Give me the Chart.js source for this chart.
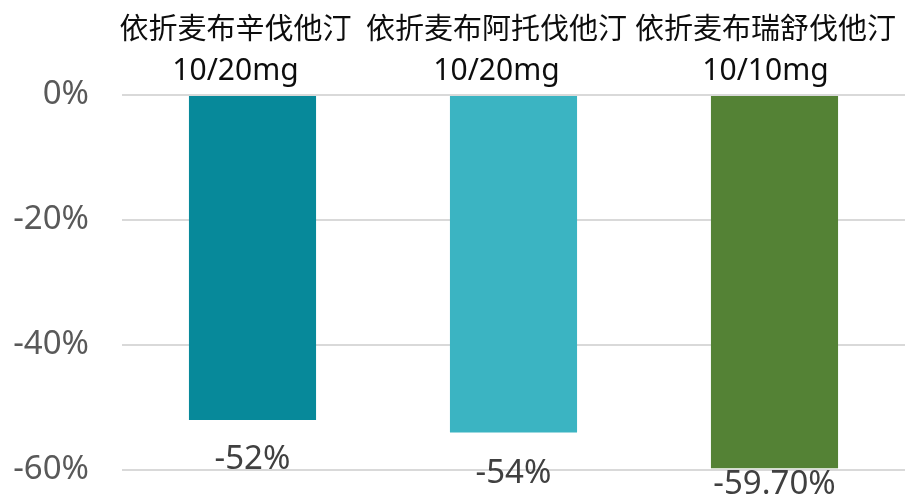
<!DOCTYPE html>
<html>
<head>
<meta charset="utf-8">
<script src="https://cdn.jsdelivr.net/npm/chart.js@4/dist/chart.umd.min.js"></script>
<style>
  html, body { margin: 0; padding: 0; background: #fff; }
  #wrap { width: 905px; height: 498px; }
</style>
</head>
<body>
<div id="wrap"><canvas id="ldlChart"></canvas></div>
<script>
const drugNames = ["依折麦布辛伐他汀", "依折麦布阿托伐他汀", "依折麦布瑞舒伐他汀"]
const doses = ["10/20mg", "10/20mg", "10/10mg"]
const ldlChange = [-52, -54, -59.7]
const valueText = ["-52%", "-54%", "-59.70%"]
const yTicks = [0, -20, -40, -60]

const barColors = ["#07899a", "#3bb4c2", "#548235"]
// how far below each bar end its value label sits
const labelDrop = [40, 41, 16]
// category titles sit a little left of their bars
const titleShift = [-17, -17, -9]

const fontFamily = "'Noto Sans', 'Noto Sans CJK SC', sans-serif"

const valueLabels = {
    id: "valueLabels",
    afterDatasetsDraw(chart) {
        const ctx = chart.ctx
        const meta = chart.getDatasetMeta(0)
        const yScale = chart.scales.y
        ctx.save()
        ctx.font = "33px " + fontFamily
        ctx.fillStyle = "#404040"
        ctx.textAlign = "center"
        ctx.textBaseline = "middle"
        meta.data.forEach((bar, i) => {
            const y = yScale.getPixelForValue(ldlChange[i]) + labelDrop[i]
            ctx.fillText(valueText[i], bar.x, y)
        })
        ctx.restore()
    }
}

// two-line category titles above the plot
const categoryTitles = {
    id: "categoryTitles",
    afterDraw(chart) {
        const ctx = chart.ctx
        const xScale = chart.scales.x
        ctx.save()
        ctx.fillStyle = "#0d0d0d"
        ctx.textAlign = "center"
        ctx.textBaseline = "alphabetic"
        drugNames.forEach((name, i) => {
            const x = xScale.getPixelForValue(i) + titleShift[i]
            ctx.font = "29px " + fontFamily
            ctx.fillText(name, x, 39)
            ctx.font = "30px " + fontFamily
            ctx.fillText(doses[i], x, 80)
        })
        ctx.restore()
    }
}

new Chart(document.getElementById("ldlChart"), {
    type: "bar",
    data: {
        labels: drugNames.map((name, i) => [name, doses[i]]),
        datasets: [{
            data: ldlChange,
            backgroundColor: barColors,
            categoryPercentage: 1,
            barPercentage: 0.487
        }]
    },
    options: {
        responsive: true,
        maintainAspectRatio: false,
        animation: false,
        layout: { padding: { top: 0, right: 0, bottom: 28, left: 0 } },
        plugins: {
            legend: { display: false },
            tooltip: { enabled: false }
        },
        scales: {
            x: {
                position: "top",
                afterFit(scale) {
                    scale.height = 95
                    scale.paddingLeft = 0
                    scale.paddingRight = 0
                },
                grid: { display: false, drawTicks: false },
                border: { display: false },
                ticks: { display: false }
            },
            y: {
                min: -60,
                max: 0,
                afterFit(scale) {
                    scale.width = 122
                    scale.paddingTop = 0
                    scale.paddingBottom = 0
                },
                afterBuildTicks(scale) { scale.ticks = yTicks.map(v => ({ value: v })) },
                grid: { color: "#d9d9d9", lineWidth: 2, drawTicks: false },
                border: { display: false },
                ticks: {
                    color: "#595959",
                    font: { family: fontFamily, size: 33 },
                    padding: 33,
                    callback: v => v + "%"
                }
            }
        }
    },
    plugins: [valueLabels, categoryTitles]
})
</script>
</body>
</html>
